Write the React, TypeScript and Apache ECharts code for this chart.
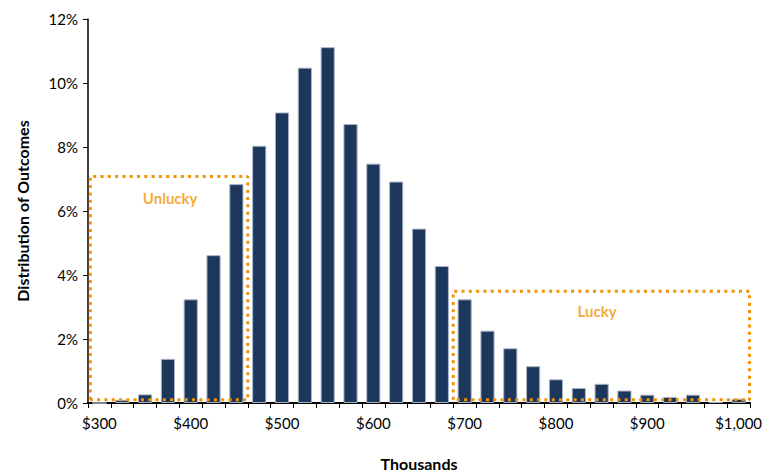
import React, { useEffect, useRef } from "react";
import * as echarts from "echarts";

const categories = [
  300, 325, 350, 375, 400, 425, 450, 475, 500, 525, 550, 575, 600, 625, 650,
  675, 700, 725, 750, 775, 800, 825, 850, 875, 900, 925, 950, 975, 1000,
];
const shares = [
  0, 0.1, 0.27, 1.38, 3.24, 4.62, 6.84, 8.04, 9.08, 10.48, 11.12, 8.72, 7.48,
  6.92, 5.45, 4.28, 3.24, 2.26, 1.71, 1.15, 0.74, 0.47, 0.6, 0.39, 0.26, 0.19,
  0.26, 0.03, 0.13,
];
// region boxes in (category index units, %) : [x0, x1, yTop]
const unluckyBox = [0.1, 7.0, 7.08];
const luckyBox = [16.0, 28.98, 3.49];
const boxBottom = 0.1;
const boxLabels = [
  { name: "Unlucky", x: 3.6, y: 6.42 },
  { name: "Lucky", x: 22.3, y: 2.87 },
];

const ORANGE = "#F39200";
const FONT = "Lato";

function boxPath(b: number[]) {
  return [
    [b[0], boxBottom],
    [b[0], b[2]],
    [b[1], b[2]],
    [b[1], boxBottom],
    [b[0], boxBottom],
  ];
}

export default function App() {
  const ref = useRef<HTMLDivElement>(null);
  useEffect(() => {
    const chart = echarts.init(ref.current!, null, { renderer: "svg" });
    const boxLine = {
      type: "line",
      xAxisIndex: 1,
      symbol: "none",
      z: 5,
      silent: true,
      lineStyle: { color: ORANGE, width: 3, type: [3, 4.3], cap: "butt" },
    };
    chart.setOption({
      animation: false,
      textStyle: { fontFamily: FONT },
      grid: {
        left: 88,
        right: 14,
        top: 19,
        bottom: 68,
        containLabel: false,
        outerBoundsMode: "none",
      },
      xAxis: [
        {
          type: "category",
          data: categories.map(String),
          name: "Thousands",
          nameLocation: "middle",
          nameGap: 52,
          nameTextStyle: { fontWeight: "bold", fontSize: 16, color: "#000", fontFamily: FONT },
          axisLine: { lineStyle: { color: "#000", width: 2 } },
          axisTick: { show: true, interval: 0, length: 5, lineStyle: { color: "#000", width: 1 } },
          axisLabel: {
            interval: 3,
            color: "#000",
            fontSize: 15,
            margin: 12,
            fontFamily: FONT,
            formatter: (v: string) => "$" + Number(v).toLocaleString("en-US"),
          },
        },
        { type: "value", min: 0, max: 29, show: false },
      ],
      yAxis: {
        type: "value",
        min: 0,
        max: 12,
        interval: 2,
        name: "Distribution of Outcomes",
        nameLocation: "middle",
        nameGap: 58,
        nameTextStyle: { fontWeight: "bold", fontSize: 16, color: "#000", fontFamily: FONT },
        axisLine: { show: true, lineStyle: { color: "#000", width: 1.5 } },
        axisTick: { show: true, length: 5, lineStyle: { color: "#000" } },
        splitLine: { show: false },
        axisLabel: { color: "#000", fontSize: 15, margin: 10, formatter: "{value}%", fontFamily: FONT },
      },
      series: [
        {
          type: "bar",
          data: shares,
          barCategoryGap: "38%",
          itemStyle: { color: "#1C365C", borderColor: "#A9B5C7", borderWidth: 1 },
          z: 2,
        },
        { ...boxLine, data: boxPath(unluckyBox) },
        { ...boxLine, data: boxPath(luckyBox) },
        {
          type: "scatter",
          xAxisIndex: 1,
          symbolSize: 0,
          silent: true,
          data: boxLabels.map((l) => ({ name: l.name, value: [l.x, l.y] })),
          label: {
            show: true,
            position: "inside",
            formatter: "{b}",
            color: ORANGE,
            fontWeight: "bold",
            fontSize: 15,
            fontFamily: FONT,
          },
        },
      ],
    });
    return () => chart.dispose();
  }, []);
  return (
    <div
      ref={ref}
      style={{ position: "absolute", left: 0, top: 0, width: 764, height: 471 }}
    />
  );
}
